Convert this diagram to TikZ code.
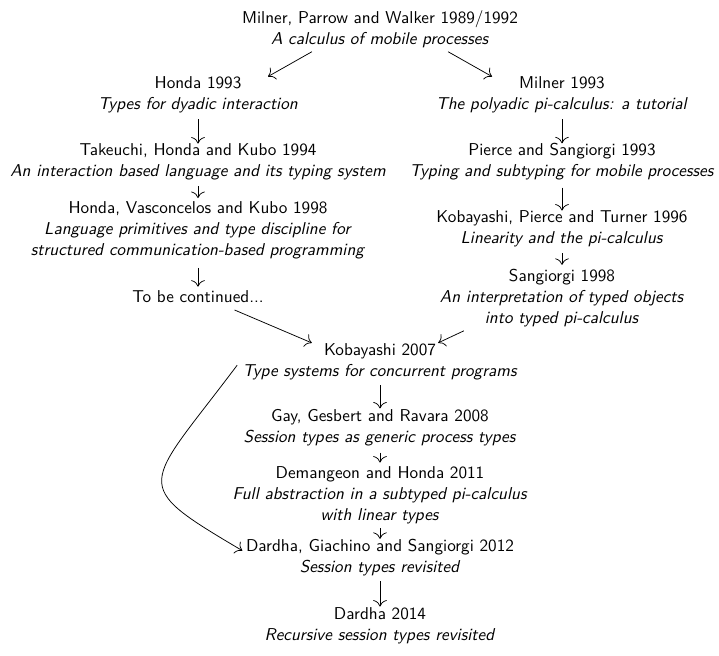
\documentclass[tikz,border=0pt]{standalone}
\usetikzlibrary{arrows.meta}
\begin{document}
\begin{tikzpicture}[x=0.6pt,y=-0.6pt,
  pub/.style={align=center,inner sep=0pt,font=\sffamily\fontsize{10.3}{12.6}\selectfont,
    execute at begin node=\strut,execute at end node=\strut},
  arr/.style={-{To[scale=1.5]},line width=0.45pt}]
\useasboundingbox (0,0) rectangle (719,656);
\node[pub] (A) at (380,30.5) {Milner, Parrow and Walker 1989/1992\\\textit{A calculus of mobile processes}};
\node[pub] (B) at (198,96.5) {Honda 1993\\\textit{Types for dyadic interaction}};
\node[pub] (C) at (562,96.5) {Milner 1993\\\textit{The polyadic pi-calculus: a tutorial}};
\node[pub] (D) at (198,163.5) {Takeuchi, Honda and Kubo 1994\\\textit{An interaction based language and its typing system}};
\node[pub] (E) at (198,231.5) {Honda, Vasconcelos and Kubo 1998\\\textit{Language primitives and type discipline for}\\\textit{structured communication-based programming}};
\node[pub] (F) at (198,298.5) {To be continued...};
\node[pub] (G) at (562,163.5) {Pierce and Sangiorgi 1993\\\textit{Typing and subtyping for mobile processes}};
\node[pub] (H) at (562,230.5) {Kobayashi, Pierce and Turner 1996\\\textit{Linearity and the pi-calculus}};
\node[pub] (I) at (562,299.5) {Sangiorgi 1998\\\textit{An interpretation of typed objects}\\\textit{into typed pi-calculus}};
\node[pub] (J) at (380,363.5) {Kobayashi 2007\\\textit{Type systems for concurrent programs}};
\node[pub] (K) at (380,429.5) {Gay, Gesbert and Ravara 2008\\\textit{Session types as generic process types}};
\node[pub] (L) at (380,497) {Demangeon and Honda 2011\\\textit{Full abstraction in a subtyped pi-calculus}\\\textit{with linear types}};
\node[pub] (M) at (380,559) {Dardha, Giachino and Sangiorgi 2012\\\textit{Session types revisited}};
\node[pub] (N) at (380,627.5) {Dardha 2014\\\textit{Recursive session types revisited}};

\draw[arr,shorten <=1pt] ([xshift=-40pt]A.south) -- ([xshift=42pt]B.north);
\draw[arr,shorten <=1pt] ([xshift=40pt]A.south) -- ([xshift=-42pt]C.north);
\draw[arr,shorten <=1.8pt] (B) -- (D);
\draw[arr,shorten <=1.8pt,shorten >=1.8pt] (D) -- (E);
\draw[arr,shorten <=3.6pt,shorten >=0.6pt] (E) -- (F);
\draw[arr,shorten <=1.8pt] (C) -- (G);
\draw[arr,shorten <=2.4pt] (G) -- (H);
\draw[arr,shorten <=1.8pt,shorten >=2.4pt] (H) -- (I);
\draw[arr,shorten <=1pt,shorten >=1pt] ([xshift=21pt]F.south) -- ([xshift=-40pt]J.north);
\draw[arr,shorten <=1pt,shorten >=1pt] ([xshift=-58pt]I.south) -- ([xshift=34pt]J.north);
\draw[arr,shorten <=1.2pt,shorten >=0.6pt] (J) -- (K);
\draw[arr,shorten <=1.8pt,shorten >=2.4pt] (K) -- (L);
\draw[arr,shorten <=0.6pt] (L) -- (M);
\draw[arr,shorten <=1.2pt,shorten >=0.6pt] (M) -- (N);
\draw[arr] ([xshift=-3pt,yshift=-1pt]J.west) .. controls +(-93,124) and +(-115,-68) .. ([xshift=-2pt,yshift=5pt]M.west);
\end{tikzpicture}
\end{document}
